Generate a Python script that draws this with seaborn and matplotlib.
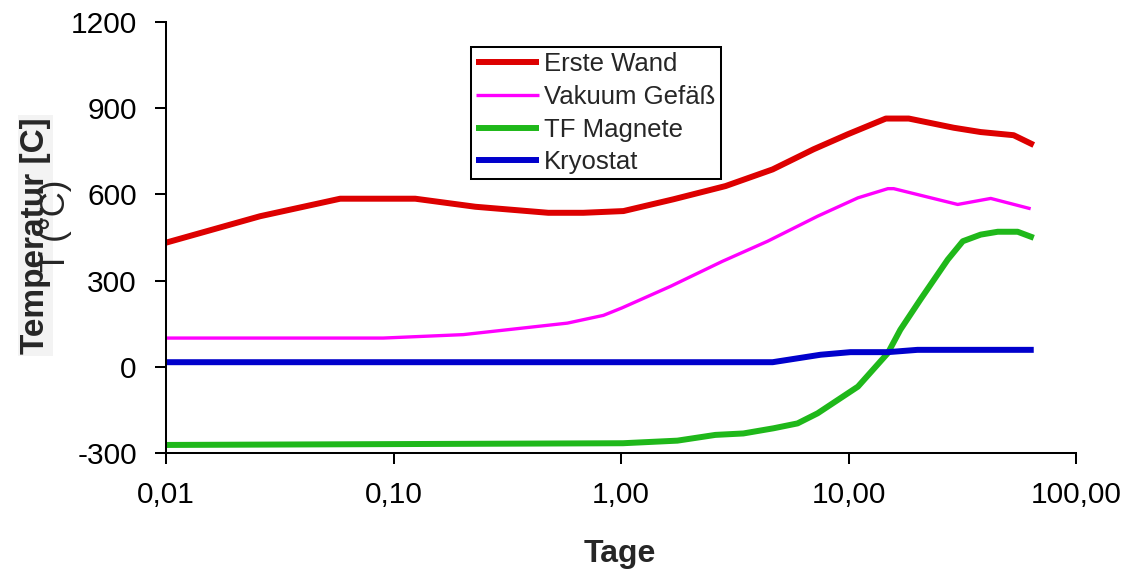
import numpy as np
import pandas as pd
import matplotlib
matplotlib.use("Agg")
import matplotlib.pyplot as plt
import seaborn as sns

# ---- data ----
wand_days = [0.01, 0.0259, 0.0583, 0.1246, 0.229, 0.479, 0.683, 1.025, 1.70, 2.88,
             4.64, 7.02, 9.91, 14.6, 18.4, 29.0, 38.1, 53.2, 65.2]
wand_temp = [432, 524, 585, 585, 557, 536, 536, 542, 583, 629,
             687, 757, 809, 864, 864, 832, 817, 806, 772]

vakuum_days = [0.01, 0.090, 0.2026, 0.581, 0.837, 1.01, 1.65, 2.79, 4.41, 7.31,
               11.0, 14.9, 15.8, 30.2, 42.2, 63.2]
vakuum_temp = [100, 100, 112, 152, 179, 205, 280, 367, 437, 524,
               588, 620, 620, 565, 586, 550]

tf_days = [0.01, 1.02, 1.77, 2.60, 3.45, 4.68, 5.97, 7.31, 11.0, 14.9,
           16.9, 20.7, 27.3, 31.8, 38.1, 45.3, 55.4, 65.2]
tf_temp = [-272, -266, -257, -237, -232, -214, -197, -162, -69, 48,
           129, 234, 373, 437, 460, 470, 470, 449]

kryo_days = [0.01, 4.64, 7.54, 10.2, 14.9, 20.1, 65.2]
kryo_temp = [16, 16, 42, 51, 51, 59, 59]

series_names = ["Erste Wand", "Vakuum Gefäß", "TF Magnete", "Kryostat"]
x_ticks = [0.01, 0.1, 1, 10, 100]
x_tick_labels = ["0,01", "0,10", "1,00", "10,00", "100,00"]
y_ticks = [-300, 0, 300, 600, 900, 1200]
y_tick_labels = ["-300", "0", "300", "600", "900", "1200"]

# ---- style ----
sns.set_style("ticks")
plt.rcParams["font.family"] = ["Liberation Sans", "DejaVu Sans"]

colors = ["#dd0000", "#ff00ff", "#1fb81a", "#0000cc"]
widths = [4.3, 2.4, 4.3, 4.3]

fig = plt.figure(figsize=(11.34, 5.73), dpi=100)
ax = fig.add_axes([166 / 1134, 1 - 453 / 573, (1076 - 166) / 1134, (453 - 22) / 573])

data = [(wand_days, wand_temp), (vakuum_days, vakuum_temp),
        (tf_days, tf_temp), (kryo_days, kryo_temp)]
for (d, t), name, c, lw in zip(data, series_names, colors, widths):
    df = pd.DataFrame({"Tage": d, "Temperatur": t})
    sns.lineplot(data=df, x="Tage", y="Temperatur", ax=ax, color=c, linewidth=lw,
                 label=name, solid_capstyle="butt", legend=False)

ax.set_xscale("log")
ax.set_xlim(0.01, 100)
ax.set_ylim(-300, 1200)
ax.set_xticks(x_ticks)
ax.set_xticklabels(x_tick_labels)
ax.xaxis.set_minor_locator(matplotlib.ticker.NullLocator())
ax.set_yticks(y_ticks)
ax.set_yticklabels(y_tick_labels)

for s in ["top", "right"]:
    ax.spines[s].set_visible(False)
for s in ["left", "bottom"]:
    ax.spines[s].set_linewidth(1.45)
    ax.spines[s].set_color("black")

ax.tick_params(axis="both", direction="out", length=8, width=1.45, colors="black",
               labelsize=21.5)
ax.tick_params(axis="y", pad=13)
ax.tick_params(axis="x", pad=12)

ax.set_xlabel("Tage", fontsize=23, fontweight="bold")
ax.xaxis.set_label_coords((620 - 166) / 910, -0.2)
ax.set_ylabel("Temperatur [C]", fontsize=24, fontweight="bold",
              bbox=dict(facecolor="#f3f3f3", edgecolor="none", pad=1.5))
ax.yaxis.set_label_coords((51 - 166) / 910, 0.505)

fig.text(55 / 1134, 1 - 226 / 573, "T (°C)", rotation=90, fontsize=25,
         ha="center", va="center")

handles, labels = ax.get_legend_handles_labels()
leg = ax.legend(handles, labels, loc="upper left",
                bbox_to_anchor=(471 / 1134, 1 - 47 / 573),
                bbox_transform=fig.transFigure, borderaxespad=0,
                fontsize=18.5, frameon=True, fancybox=False, framealpha=1,
                edgecolor="black", borderpad=0.2, labelspacing=0.34,
                handlelength=2.45, handletextpad=0.2)
leg.get_frame().set_linewidth(1.45)

fig.savefig("out.png", dpi=100)
